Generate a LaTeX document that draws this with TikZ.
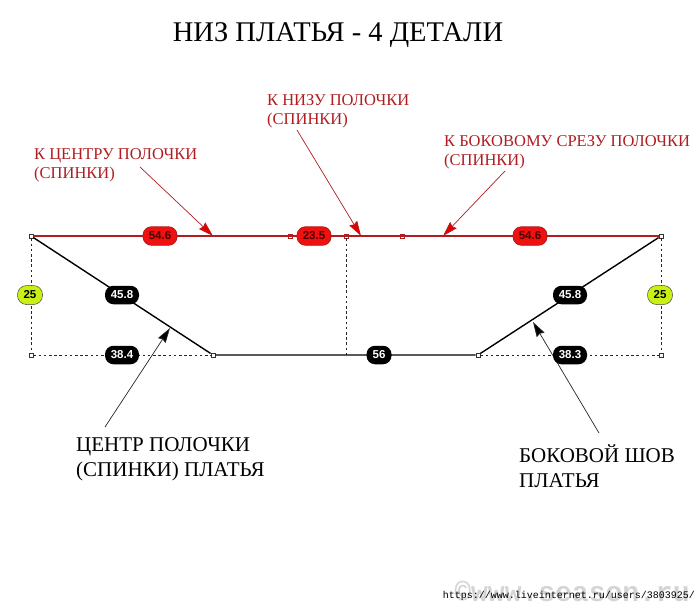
\documentclass[tikz,border=0pt]{standalone}
\usepackage{fontspec}
\setmainfont{Liberation Serif}
\setsansfont{Liberation Sans}
\setmonofont{Liberation Mono}
\usetikzlibrary{calc,arrows.meta}

\definecolor{seamred}{RGB}{176,28,32}
\definecolor{pillred}{RGB}{240,16,16}
\definecolor{pillgreen}{RGB}{200,240,20}

\tikzset{
	pt/.style={draw=#1, fill=white, line width=0.8pt, minimum size=4pt, inner sep=0pt, rectangle},
	pt/.default=black!80,
	pill/.style={rounded corners=8.5pt, minimum width=34pt, minimum height=18.5pt, inner sep=0pt, font=\sffamily\bfseries\fontsize{11.5}{12}\selectfont},
	blackpill/.style={pill, fill=black, text=white},
	redpill/.style={pill, draw=seamred, line width=0.8pt, fill=pillred, text=black!70!red},
	greenpill/.style={pill, draw=black!70, line width=0.5pt, fill=pillgreen, text=black, minimum width=25pt, minimum height=19pt, rounded corners=9pt},
	redtext/.style={text=seamred, align=left, anchor=north west, inner sep=0pt, font=\fontsize{16.5}{19.5}\selectfont},
	blacktext/.style={text=black, align=left, anchor=north west, inner sep=0pt, font=\fontsize{21}{25.5}\selectfont},
	redarrow/.style={draw=seamred, line width=0.7pt, -{Stealth[length=15pt,width=9pt,inset=1.5pt,fill=red!90!black]}},
	blackarrow/.style={draw=black!85, line width=0.7pt, -{Stealth[length=15pt,width=9pt,inset=1.5pt,fill=black]}},
	dotline/.style={draw=black!85, line width=0.85pt, dash pattern=on 2.6pt off 2.6pt},
}

\begin{document}
\begin{tikzpicture}[x=1pt, y=-1pt]
	\useasboundingbox (0,0) rectangle (700,607);

	% Corner points
	\node (topleft) at (31,236) [pt] {};
	\node (topa) at (290,236) [pt=seamred] {};
	\node (topmid) at (346,236) [pt=seamred] {};
	\node (topb) at (402,236) [pt=seamred] {};
	\node (topright) at (661,236) [pt] {};
	\node (lowleft) at (31,355) [pt] {};
	\node (lowa) at (213,355) [pt] {};
	\coordinate (lowmid) at (346,355);
	\node (lowb) at (478,355) [pt] {};
	\node (lowright) at (661,355) [pt] {};
	\coordinate (redhita) at (213,236);
	\coordinate (redhitb) at (361,236);
	\coordinate (redhitc) at (443,236);
	\coordinate (blackhita) at (170,328);
	\coordinate (blackhitb) at (533,322);

	% Dotted guides
	\draw [dotline] (topleft) -- (lowleft);
	\draw [dotline] (topmid) -- (lowmid);
	\draw [dotline] (topright) -- (lowright);
	\draw [dotline] (lowleft) -- (lowa);
	\draw [dotline] (lowb) -- (lowright);

	% Outline of the part
	\draw [seamred, line width=1.4pt] (topleft) -- (topright);
	\draw [black, line width=1.4pt] (topleft) -- (lowa) -- (lowb) -- (topright);

	% Stamp
	\node (stamp) at (572,591) [text=black!17, font=\bfseries\ttfamily\fontsize{28}{28}\selectfont] {©www.season.ru};
	\node (link) at (569,596) [font=\ttfamily\fontsize{10}{12}\selectfont] {https://www.liveinternet.ru/users/3803925/};

	% Arrows
	\coordinate (taila) at (140,167);
	\coordinate (tailb) at (297,130);
	\coordinate (tailc) at (505,171);
	\coordinate (taild) at (105,427);
	\coordinate (taile) at (599,433);
	\draw [redarrow] (taila) -- (redhita);
	\draw [redarrow] (tailb) -- (redhitb);
	\draw [redarrow] (tailc) -- (redhitc);
	\draw [blackarrow] (taild) -- (blackhita);
	\draw [blackarrow] (taile) -- (blackhitb);

	% Measures
	\foreach \name/\x/\y/\val/\kind in {
		ma/160/236/54.6/redpill, mb/314/236/23.5/redpill, mc/530/236/54.6/redpill,
		md/122/295/45.8/blackpill, me/570/295/45.8/blackpill,
		mf/122/355/38.4/blackpill, mh/570/355/38.3/blackpill,
		mi/30/295/25/greenpill, mj/660/295/25/greenpill} {
		\node (\name) at (\x,\y) [\kind] {\val};
	}
	\node (mg) at (379,355) [blackpill, minimum width=25pt] {56};

	% Title and notes
	\node (title) at (338,35) [font=\fontsize{28.5}{30}\selectfont] {НИЗ ПЛАТЬЯ - 4 ДЕТАЛИ};
	\node (notea) at (34,148) [redtext] {К ЦЕНТРУ ПОЛОЧКИ\\(СПИНКИ)};
	\node (noteb) at (267,94) [redtext] {К НИЗУ ПОЛОЧКИ\\(СПИНКИ)};
	\node (notec) at (444,135) [redtext] {К БОКОВОМУ СРЕЗУ ПОЛОЧКИ\\(СПИНКИ)};
	\node (noted) at (76,437) [blacktext] {ЦЕНТР ПОЛОЧКИ\\(СПИНКИ) ПЛАТЬЯ};
	\node (notee) at (519,444) [blacktext] {БОКОВОЙ ШОВ\\ПЛАТЬЯ};
\end{tikzpicture}
\end{document}
